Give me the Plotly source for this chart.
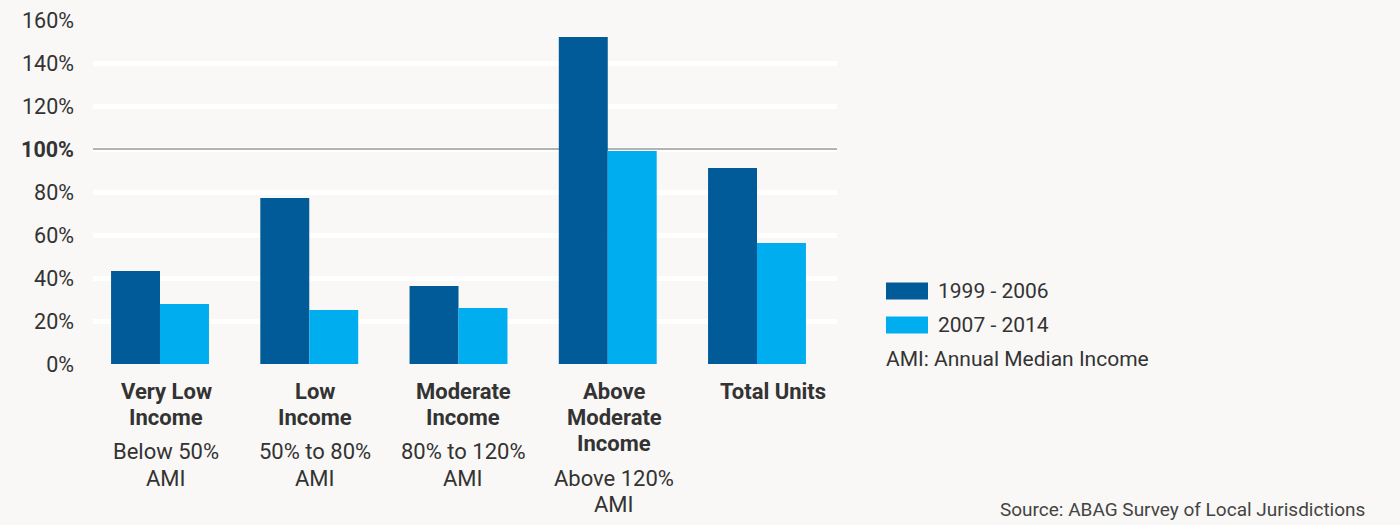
import plotly.graph_objects as go

# ---- data ----
CATEGORY_TITLES = ["Very Low<br>Income", "Low<br>Income", "Moderate<br>Income",
                   "Above<br>Moderate<br>Income", "Total Units"]
CATEGORY_NOTES = ["Below 50%<br>AMI", "50% to 80%<br>AMI", "80% to 120%<br>AMI",
                  "Above 120%<br>AMI", ""]
SERIES_NAMES = ["1999 - 2006", "2007 - 2014"]
VALUES_1999_2006 = [43.3, 77.2, 36.3, 152.1, 91.2]
VALUES_2007_2014 = [27.9, 25.1, 26.0, 99.1, 56.3]
Y_TICKS = [0, 20, 40, 60, 80, 100, 120, 140, 160]
NOTE_TEXT = "AMI: Annual Median Income"
SOURCE_TEXT = "Source: ABAG Survey of Local Jurisdictions"

# ---- style / layout ----
W, H = 1400, 525
L, R, T, B = 93, 837, 20, 364
BG = "#F9F8F6"
DARK = "#005B98"
LIGHT = "#00ADEE"
TXT = "#333333"
FONT = "Roboto"
X_RANGE = [-0.449, 4.536]
LABEL_X_PX = [166, 315, 463, 614, 773]
LINE_STEP = 26.3


def px_x(p):
    return (p - L) / (R - L)


def px_y(p):
    return (B - p) / (B - T)


xs = list(range(len(CATEGORY_TITLES)))

fig = go.Figure()
fig.add_trace(go.Bar(x=xs, y=VALUES_1999_2006, name=SERIES_NAMES[0],
                     marker=dict(color=DARK, line=dict(width=0))))
fig.add_trace(go.Bar(x=xs, y=VALUES_2007_2014, name=SERIES_NAMES[1],
                     marker=dict(color=LIGHT, line=dict(width=0))))

ticktext = [("<b>%d%%</b>" % v) if v == 100 else ("%d%%" % v) for v in Y_TICKS]

fig.update_layout(
    width=W, height=H,
    margin=dict(l=L, r=W - R, t=T, b=H - B, pad=0, autoexpand=False),
    paper_bgcolor=BG, plot_bgcolor=BG,
    barmode="group", bargap=0.344, bargroupgap=0,
    showlegend=False,
    font=dict(family=FONT, color=TXT, size=20),
    xaxis=dict(range=X_RANGE, showticklabels=False, showgrid=False,
               zeroline=False, showline=False, automargin=False),
    yaxis=dict(range=[0, 160], tickvals=Y_TICKS, ticktext=ticktext,
               showgrid=True, gridcolor="white", gridwidth=4.5,
               zeroline=False, showline=False, ticks="", automargin=False,
               ticklabelstandoff=18,
               tickfont=dict(family=FONT, color=TXT, size=21.5)),
)

# grey 100% reference line (between grid and bars)
fig.add_shape(type="line", xref="x", yref="y", x0=X_RANGE[0], x1=X_RANGE[1],
              y0=100, y1=100, line=dict(color="#9A9A9A", width=1.6), layer="between")

annotations = []


def add_lines(text, cx, first_center, bold):
    lines = text.split("<br>")
    for k, line in enumerate(lines):
        annotations.append(dict(
            x=px_x(cx), y=px_y(first_center + k * LINE_STEP),
            xref="paper", yref="paper",
            text=("<b>%s</b>" % line) if bold else line,
            showarrow=False, xanchor="center", yanchor="middle",
            font=dict(family=FONT, size=22, color=TXT)))
    return first_center + (len(lines) - 1) * LINE_STEP


for i, (title, note) in enumerate(zip(CATEGORY_TITLES, CATEGORY_NOTES)):
    last = add_lines(title, LABEL_X_PX[i], 391, True)
    if note:
        add_lines(note, LABEL_X_PX[i], last + 34.5, False)

# legend (manual)
legend_rows = [(SERIES_NAMES[0], DARK, 291), (SERIES_NAMES[1], LIGHT, 325)]
for name, col, cy in legend_rows:
    fig.add_shape(type="rect", xref="paper", yref="paper",
                  x0=px_x(886), x1=px_x(928), y0=px_y(cy + 8.5), y1=px_y(cy - 8.5),
                  fillcolor=col, line=dict(width=0), layer="above")
    annotations.append(dict(x=px_x(936), y=px_y(cy), xref="paper", yref="paper",
                            text=name, showarrow=False, xanchor="left", yanchor="middle",
                            font=dict(family=FONT, size=21, color=TXT)))
annotations.append(dict(x=px_x(884), y=px_y(359), xref="paper", yref="paper",
                        text=NOTE_TEXT, showarrow=False, xanchor="left", yanchor="middle",
                        font=dict(family=FONT, size=21, color=TXT)))
annotations.append(dict(x=px_x(1367), y=px_y(510), xref="paper", yref="paper",
                        text=SOURCE_TEXT, showarrow=False, xanchor="right", yanchor="middle",
                        font=dict(family=FONT, size=19, color="#444444")))

fig.update_layout(annotations=annotations)
fig.write_html("out.html")
